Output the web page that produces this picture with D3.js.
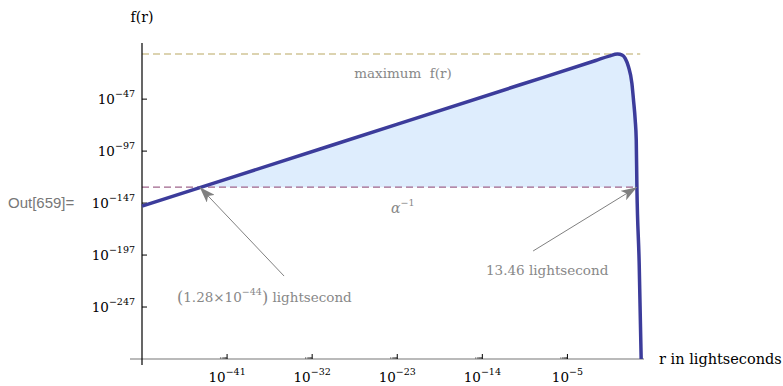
<!DOCTYPE html>
<html>
<head>
<meta charset="utf-8">
<script src="https://cdn.jsdelivr.net/npm/d3@7"></script>
<style>
  body { margin: 0; background: #fff; }
</style>
</head>
<body>
<div id="chart"></div>
<script>
// data, in log10 units
var logR = [-50, -30, -10, -2, -0.6, 0.3, 0.8, 1.11, 1.46, 1.82, 1.99, 2.17, 2.28, 2.35, 2.59, 2.8];
var logF = [-150, -91.6, -33.2, -9.8, -5.6, -3.6, -4.6, -7.7, -15.9, -31.8, -47.9, -67.1, -86.3, -131.7, -204.6, -297];
var maxLevel = -3.6;      // maximum f(r)
var alphaLevel = -131.7;  // alpha^-1
var crossLeft = -43.89;   // log10(1.28e-44)
var crossRight = 2.35;
var xTicks = [-41, -32, -23, -14, -5];
var yTicks = [-47, -97, -147, -197, -247];

var serif = "'DejaVu Serif', serif";
var width = 783, height = 386;
var svg = d3.select("#chart").append("svg")
  .attr("width", width).attr("height", height)
  .attr("font-family", serif);

var x = d3.scaleLinear().domain([-50, 3.1]).range([142, 644]);
var y = d3.scaleLinear().domain([-297, 7]).range([359, 43]);

var curve = logR.map(function(r, i) { return [r, logF[i]]; });
// fill region: between the crossings, including both crossing points
var fillPts = [[crossLeft, alphaLevel]].concat(curve.filter(function(d) {
  return d[0] > crossLeft && d[0] < crossRight;
})).concat([[crossRight, alphaLevel]]);

svg.append("path")
  .datum(fillPts)
  .attr("fill", "#deedfd")
  .attr("d", d3.area()
    .x(function(d) { return x(d[0]); })
    .y0(y(alphaLevel))
    .y1(function(d) { return y(d[1]); })
    .curve(d3.curveMonotoneX));

// dashed reference lines
svg.append("line")
  .attr("x1", x(-50)).attr("x2", x(2.7))
  .attr("y1", y(maxLevel)).attr("y2", y(maxLevel))
  .attr("stroke", "#b9a862").attr("stroke-width", 1.2).attr("stroke-dasharray", "7,4");
svg.append("line")
  .attr("x1", x(-50)).attr("x2", x(2.4))
  .attr("y1", y(alphaLevel)).attr("y2", y(alphaLevel))
  .attr("stroke", "#a0658c").attr("stroke-width", 1.2).attr("stroke-dasharray", "7,4");

// axes
svg.append("line")
  .attr("x1", 130).attr("x2", x(3.1))
  .attr("y1", y(-297)).attr("y2", y(-297))
  .attr("stroke", "#777").attr("stroke-width", 1.2);
svg.append("line")
  .attr("x1", x(-50)).attr("x2", x(-50))
  .attr("y1", y(7)).attr("y2", y(-297) + 6)
  .attr("stroke", "#000").attr("stroke-width", 1.2);

// y ticks
yTicks.forEach(function(t) {
  svg.append("line")
    .attr("x1", x(-50)).attr("x2", x(-50) + 5)
    .attr("y1", y(t)).attr("y2", y(t))
    .attr("stroke", "#000");
  var lab = svg.append("text")
    .attr("x", 135).attr("y", y(t) + 5)
    .attr("text-anchor", "end")
    .attr("font-size", 13.5).attr("fill", "#000");
  lab.append("tspan").text("10");
  lab.append("tspan").attr("dy", -7).attr("font-size", 9.5).text("\u2212" + (-t));
});

// x ticks (major + minor at 2..9 x 10^(k-1))
xTicks.forEach(function(t) {
  svg.append("line")
    .attr("x1", x(t)).attr("x2", x(t))
    .attr("y1", y(-297)).attr("y2", y(-297) - 5)
    .attr("stroke", "#000");
  d3.range(2, 10).forEach(function(m) {
    var v = t - 1 + Math.log10(m);
    svg.append("line")
      .attr("x1", x(v)).attr("x2", x(v))
      .attr("y1", y(-297)).attr("y2", y(-297) - 2)
      .attr("stroke", "#333").attr("stroke-width", 0.5);
  });
  var lab = svg.append("text")
    .attr("x", x(t)).attr("y", 382)
    .attr("text-anchor", "middle")
    .attr("font-size", 13.5).attr("fill", "#000");
  lab.append("tspan").text("10");
  lab.append("tspan").attr("dy", -7).attr("font-size", 9.5).text("\u2212" + (-t));
});

// the curve
svg.append("path")
  .datum(curve)
  .attr("fill", "none")
  .attr("stroke", "#3c3c9b")
  .attr("stroke-width", 3.5)
  .attr("stroke-linejoin", "round")
  .attr("d", d3.line()
    .x(function(d) { return x(d[0]); })
    .y(function(d) { return y(d[1]); })
    .curve(d3.curveMonotoneX));

// arrows
svg.append("defs").append("marker")
  .attr("id", "head")
  .attr("viewBox", "0 0 16 11")
  .attr("refX", 16).attr("refY", 5.5)
  .attr("markerWidth", 16).attr("markerHeight", 11)
  .attr("markerUnits", "userSpaceOnUse")
  .attr("orient", "auto")
  .append("path").attr("d", "M0,0 L16,5.5 L0,11 L4,5.5 Z").attr("fill", "#808080");

svg.append("line")
  .attr("x1", x(-34.97)).attr("y1", y(-217.2))
  .attr("x2", x(crossLeft)).attr("y2", y(alphaLevel))
  .attr("stroke", "#808080").attr("stroke-width", 1)
  .attr("marker-end", "url(#head)");
svg.append("line")
  .attr("x1", x(-8.63)).attr("y1", y(-193.1))
  .attr("x2", x(crossRight)).attr("y2", y(alphaLevel))
  .attr("stroke", "#808080").attr("stroke-width", 1)
  .attr("marker-end", "url(#head)");

// annotation labels
svg.append("text").attr("x", 403).attr("y", 78)
  .attr("text-anchor", "middle").attr("font-size", 13.5).attr("fill", "#888")
  .attr("xml:space", "preserve")
  .text("maximum  f(r)");

var al = svg.append("text").attr("x", 391).attr("y", 213)
  .attr("font-size", 14).attr("fill", "#888");
al.append("tspan").attr("font-style", "italic").text("\u03b1");
al.append("tspan").attr("dy", -7).attr("font-size", 9.5).text("\u22121");

var ll = svg.append("text").attr("x", 177).attr("y", 302)
  .attr("font-size", 13.5).attr("fill", "#888");
ll.append("tspan").attr("font-size", 16).attr("dy", 1).text("(");
ll.append("tspan").attr("dy", -1).text("1.28\u00d710");
ll.append("tspan").attr("dy", -7).attr("font-size", 9.5).text("\u221244");
ll.append("tspan").attr("dy", 8).attr("font-size", 16).text(")");
ll.append("tspan").attr("dy", -1).text(" lightsecond");

svg.append("text").attr("x", 486).attr("y", 275)
  .attr("font-size", 13.5).attr("fill", "#888")
  .text("13.46 lightsecond");

// axis labels
svg.append("text").attr("x", 142).attr("y", 22)
  .attr("text-anchor", "middle").attr("font-size", 14).attr("fill", "#000")
  .text("f(r)");
svg.append("text").attr("x", 659).attr("y", 364)
  .attr("font-size", 14.5).attr("fill", "#000")
  .text("r in lightseconds");

svg.append("text").attr("x", 8).attr("y", 208)
  .attr("font-size", 15).attr("fill", "#777")
  .attr("font-family", "'Liberation Sans', Arial, sans-serif")
  .text("Out[659]=");
</script>
</body>
</html>
